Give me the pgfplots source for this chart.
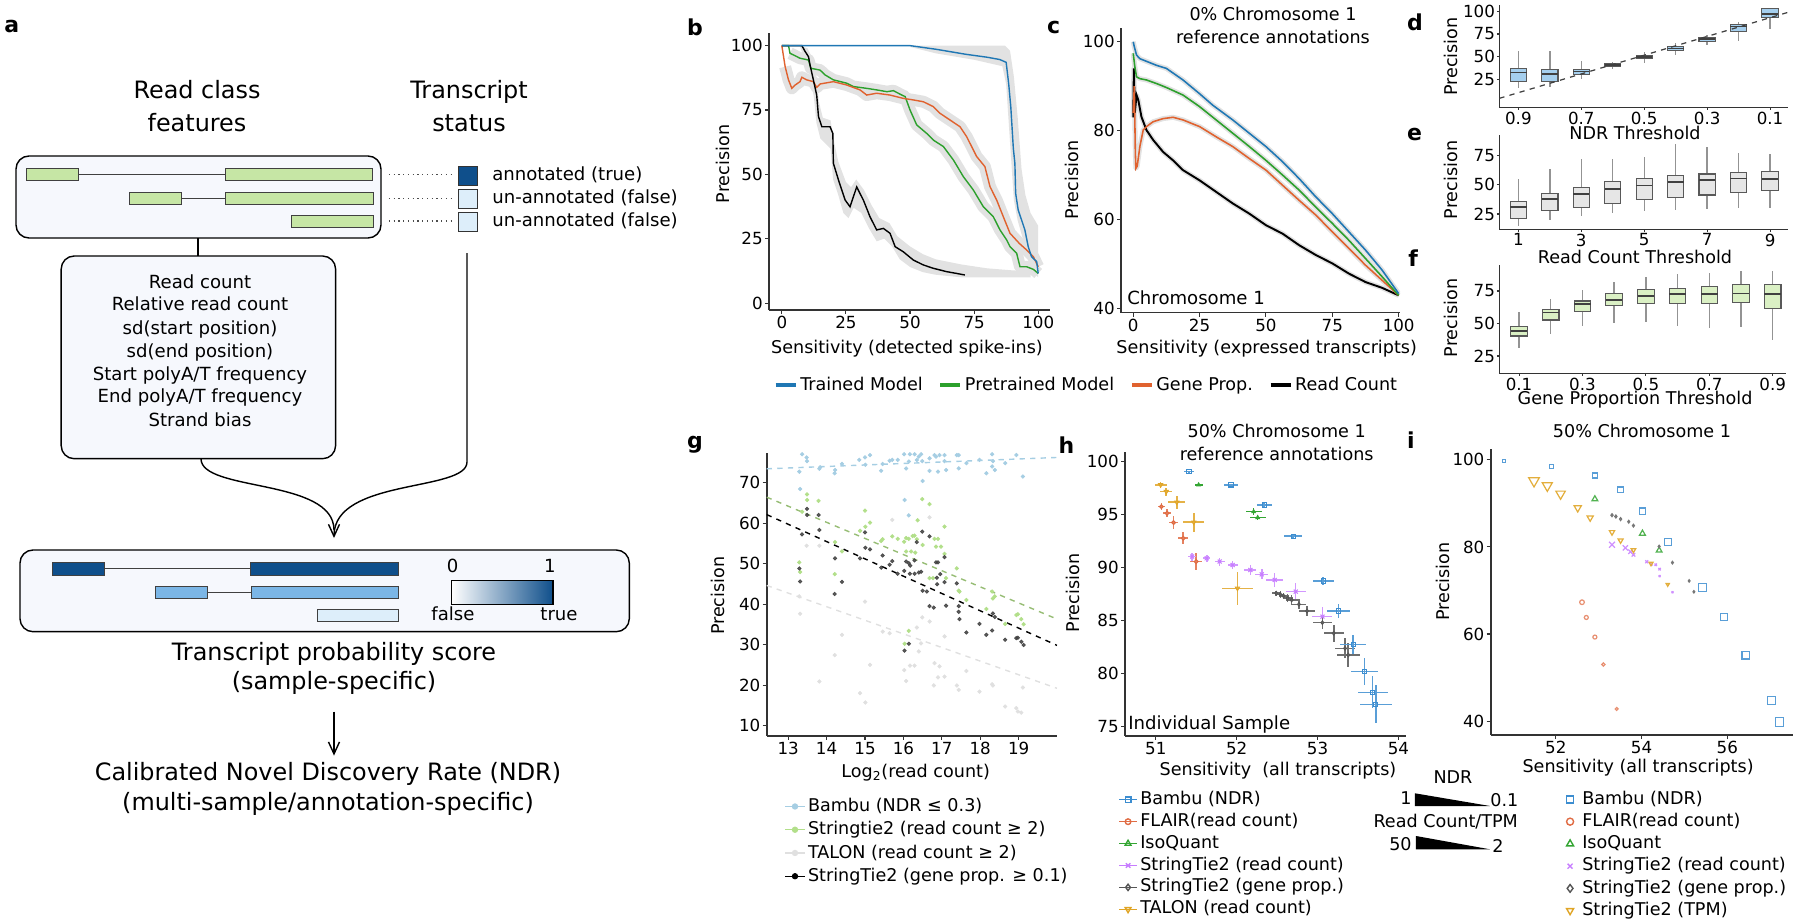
\documentclass[border=0pt]{standalone}
\usepackage{fontspec}
\setmainfont{DejaVu Sans}
\usepackage{pgfplots}
\pgfplotsset{compat=1.18}
\usepgfplotslibrary{statistics}
\usetikzlibrary{arrows.meta}

\definecolor{cBlue}{HTML}{1F77B4}
\definecolor{cGreen}{HTML}{2CA02C}
\definecolor{cOrange}{HTML}{E0622F}
\definecolor{band}{HTML}{E2E2E2}
\definecolor{dBox}{HTML}{A5CFEE}
\definecolor{eBox}{HTML}{E6E6E6}
\definecolor{fBox}{HTML}{DAF0C4}
\definecolor{gBlue}{HTML}{A6CEE3}
\definecolor{gGreen}{HTML}{B2DF8A}
\definecolor{gGray}{HTML}{E0E0E0}
\definecolor{gBlack}{HTML}{404040}
\definecolor{hBlue}{HTML}{3C8DD0}
\definecolor{hRed}{HTML}{E06C44}
\definecolor{hGreen}{HTML}{33A532}
\definecolor{hPurple}{HTML}{C77DFF}
\definecolor{hGray}{HTML}{555555}
\definecolor{hGold}{HTML}{E0A526}
\definecolor{aFill}{HTML}{F6F8FD}
\definecolor{aGreen}{HTML}{C6E6A5}
\definecolor{aDark}{HTML}{0F4F8B}
\definecolor{aMid}{HTML}{7BB6E6}
\definecolor{aLight}{HTML}{DDEEFA}

\newcommand\tfs{\fontsize{9.5}{11}\selectfont}
\newcommand\lfs{\fontsize{10}{12}\selectfont}
\newcommand\pfs{\fontsize{12.5}{14}\selectfont\bfseries}
\newcommand\afs{\fontsize{13.6}{16.3}\selectfont}
\newcommand\asf{\fontsize{10.3}{13}\selectfont}

\pgfdeclareplotmark{itri}{%
  \pgfpathmoveto{\pgfqpoint{0pt}{-\pgfplotmarksize}}%
  \pgfpathlineto{\pgfqpointpolar{30}{\pgfplotmarksize}}%
  \pgfpathlineto{\pgfqpointpolar{150}{\pgfplotmarksize}}%
  \pgfpathclose
  \pgfusepathqstroke
}

\pgfplotsset{
  mpl/.style={
    scale only axis,
    anchor=south west,
    axis x line*=bottom, axis y line*=left,
    axis line style={line width=0.9pt, black!80},
    every tick/.style={black!80, line width=0.6pt},
    tick align=outside, major tick length=0.8mm,
    tick label style={font=\tfs, inner sep=0.4mm},
    label style={font=\lfs},
    /pgf/number format/assume math mode=true,
  },
  bxp/.style={
    mpl,
    xmin=0.395, xmax=9.57,
    xtick={1,3,5,7,9},
    major tick length=0.5mm,
    tick label style={inner sep=0.3mm},
    boxplot/draw direction=y,
    boxplot/box extend=0.52,
    boxplot/whisker extend=0,
    boxplot/every whisker/.style={draw=gray!85, line width=0.8pt},
    boxplot/every median/.style={draw=black!75, line width=0.9pt},
  },
  eb/.style={only marks, line width=0.6pt,
    error bars/x dir=both, error bars/x explicit,
    error bars/y dir=both, error bars/y explicit,
    error bars/error mark=none,
    error bars/error bar style={line width=0.9pt, #1}},
}
\newcommand\bx[6]{\addplot[boxplot prepared={draw position=#1, lower whisker=#2, lower quartile=#3, median=#4, upper quartile=#5, upper whisker=#6}] coordinates {};}

\begin{document}
\begin{tikzpicture}
\useasboundingbox (0,0) rectangle (360mm,-184.4mm);

% ================= panel a (schematic) =================
\begin{scope}[x=0.2mm,y=-0.2mm]
\node[font=\afs, anchor=mid] at (197,94) {Read class};
\node[font=\afs, anchor=mid] at (197,126.4) {features};
\node[font=\afs, anchor=mid] at (469,94) {Transcript};
\node[font=\afs, anchor=mid] at (469,126.4) {status};
\draw[line width=0.8pt, fill=aFill, rounded corners=2.6mm] (16,156) rectangle (381,238);
\begin{scope}[draw=gray!50!black, line width=0.5pt]
\draw[fill=aGreen] (26.8,168.6) rectangle (78.5,180.6);
\draw (78.5,174.6) -- (225,174.6);
\draw[fill=aGreen] (225,168.6) rectangle (372.4,180.6);
\draw[fill=aGreen] (129.4,192.2) rectangle (181.4,204.2);
\draw (181.4,198.2) -- (225.8,198.2);
\draw[fill=aGreen] (225.8,192.2) rectangle (373.1,204.2);
\draw[fill=aGreen] (291.6,215) rectangle (373.1,227);
\end{scope}
\draw[dotted, line width=0.7pt, gray!60!black] (389,174.6) -- (451.6,174.6);
\draw[dotted, line width=0.7pt, gray!60!black] (389,198.2) -- (451.6,198.2);
\draw[dotted, line width=0.7pt, gray!60!black] (389,221) -- (451.6,221);
\draw[fill=aDark, draw=black!80, line width=0.5pt] (458,166) rectangle (477,185);
\draw[fill=aLight, draw=black!80, line width=0.5pt] (458,189) rectangle (477,208);
\draw[fill=aLight, draw=black!80, line width=0.5pt] (458,212) rectangle (477,231);
\node[font=\asf, anchor=west, inner sep=0] at (492,174.6) {annotated (true)};
\node[font=\asf, anchor=west, inner sep=0] at (492,198.2) {un-annotated (false)};
\node[font=\asf, anchor=west, inner sep=0] at (492,221) {un-annotated (false)};
\draw[line width=0.7pt] (198,238) -- (198,256);
\draw[line width=0.8pt, fill=aFill, rounded corners=2.6mm] (61.2,256) rectangle (335.6,458.7);
\node[font=\asf, anchor=mid] at (200,283.4) {Read count};
\node[font=\asf, anchor=mid] at (200,305.8) {Relative read count};
\node[font=\asf, anchor=mid] at (200,329.3) {sd(start position)};
\node[font=\asf, anchor=mid] at (200,352.8) {sd(end position)};
\node[font=\asf, anchor=mid] at (200,375.2) {Start polyA/T frequency};
\node[font=\asf, anchor=mid] at (200,398.1) {End polyA/T frequency};
\node[font=\asf, anchor=mid] at (200,421.6) {Strand bias};
\draw[line width=0.8pt] (201,458.7) .. controls (201,492) and (334,478) .. (334,530);
\draw[line width=0.8pt, -{Straight Barb[length=2.4mm,width=2.2mm]}] (467,253) -- (467,462) .. controls (467,492) and (334,478) .. (334,538);
\draw[line width=0.8pt, fill=aFill, rounded corners=2.6mm] (20,550) rectangle (629.3,631.7);
\begin{scope}[draw=gray!50!black, line width=0.5pt]
\draw[fill=aDark] (52.8,562.6) rectangle (104.5,575);
\draw (104.5,568.8) -- (250.7,568.8);
\draw[fill=aDark] (250.7,562.6) rectangle (398.8,575);
\draw[fill=aMid] (155,586) rectangle (207,598.4);
\draw (207,592.2) -- (251.4,592.2);
\draw[fill=aMid] (251.4,586) rectangle (398.8,598.4);
\draw[fill=aLight] (317.6,609.1) rectangle (398.8,621.5);
\end{scope}
\shade[left color=white, right color=aDark] (451.6,580.4) rectangle (553,604.5);
\draw[line width=0.6pt] (451.6,580.4) rectangle (553,604.5);
\node[font=\asf, anchor=mid] at (452.7,567.5) {0};
\node[font=\asf, anchor=mid] at (550,567.5) {1};
\node[font=\asf, anchor=mid] at (453,615.7) {false};
\node[font=\asf, anchor=mid] at (559,615.7) {true};
\node[font=\afs, anchor=mid] at (334,655.6) {Transcript probability score};
\node[font=\afs, anchor=mid] at (334,685) {(sample-specific)};
\draw[line width=0.8pt, -{Straight Barb[length=2.4mm,width=2.2mm]}] (334,711.5) -- (334,755.6);
\node[font=\afs, anchor=mid] at (328,776) {Calibrated Novel Discovery Rate (NDR)};
\node[font=\afs, anchor=mid] at (328,805.6) {(multi-sample/annotation-specific)};

% panel letters
\node[font=\pfs, anchor=base west, inner sep=0] at (4,32) {a};
\node[font=\pfs, anchor=base west, inner sep=0] at (686.7,35) {b};
\node[font=\pfs, anchor=base west, inner sep=0] at (1046.7,33.3) {c};
\node[font=\pfs, anchor=base west, inner sep=0] at (1406.7,30) {d};
\node[font=\pfs, anchor=base west, inner sep=0] at (1406.7,140) {e};
\node[font=\pfs, anchor=base west, inner sep=0] at (1408,266.7) {f};
\node[font=\pfs, anchor=base west, inner sep=0] at (686.7,448) {g};
\node[font=\pfs, anchor=base west, inner sep=0] at (1058.3,453.3) {h};
\node[font=\pfs, anchor=base west, inner sep=0] at (1406.7,448.3) {i};

% titles and inner notes
\node[font=\lfs, anchor=mid] at (1273,16) {0\% Chromosome 1};
\node[font=\lfs, anchor=mid] at (1273,39) {reference annotations};
\node[font=\asf, anchor=west, inner sep=0] at (1127,298) {Chromosome 1};
\node[font=\lfs, anchor=mid] at (1276.7,433) {50\% Chromosome 1};
\node[font=\lfs, anchor=mid] at (1276.7,456) {reference annotations};
\node[font=\asf, anchor=west, inner sep=0] at (1128,725) {Individual Sample};
\node[font=\lfs, anchor=mid] at (1642,433) {50\% Chromosome 1};

% NDR / read count wedges
\node[font=\lfs, anchor=mid] at (1453,779) {NDR};
\fill (1415,793.3) -- (1415,806) -- (1490,806) -- cycle;
\node[font=\lfs, anchor=mid east, inner sep=0] at (1412,800) {1};
\node[font=\lfs, anchor=mid west, inner sep=0] at (1490,801.7) {0.1};
\node[font=\lfs, anchor=mid] at (1445.7,822.3) {Read Count/TPM};
\fill (1416,836) -- (1416,849.3) -- (1490,849.3) -- cycle;
\node[font=\lfs, anchor=mid east, inner sep=0] at (1412,846) {50};
\node[font=\lfs, anchor=mid west, inner sep=0] at (1492,848) {2};
\end{scope}

% ================= panel b =================
\begin{axis}[mpl, at={(153.8mm,-62mm)}, width=56.2mm, height=55.4mm,
  xmin=-5, xmax=104.6, ymin=-2.7, ymax=104.9,
  xtick={0,25,...,100}, ytick={0,25,...,100},
  xlabel={Sensitivity (detected spike-ins)}, ylabel={Precision},
  xlabel style={at={(axis description cs:0.491,-0.138)},anchor=center},
  ylabel style={at={(axis description cs:-0.164,0.527)},anchor=center},
  legend columns=4,
  legend style={at={(axis description cs:0.015,-0.271)}, anchor=west, draw=none, fill=none, font=\lfs, inner sep=0pt, nodes={inner sep=0.5mm}, /tikz/every even column/.append style={column sep=2.6mm}},
  legend image code/.code={\draw[#1] (0mm,0mm) -- (4mm,0mm);},
]
\addplot[fill=band, draw=none, forget plot] coordinates {(50,100) (87,100) (89,98) (90.5,88) (92,72) (93.5,52) (95,42) (97,35) (100,30) (100,10) (98,12) (96,17) (94,25) (92,32) (90.5,40) (89.5,55) (88.5,70) (87.5,85) (86,92) (75,94.5) (60,97) (50,99.5)};
\addplot[fill=band, draw=none, forget plot] coordinates {(7,100) (10,99) (12,95) (13.5,88) (14.5,78) (16,72) (19,71) (20.5,62) (22,55) (25,47) (27,45) (29,48) (32,44) (35,38) (38,33) (42,31) (45,26) (50,22) (55,19) (60,17) (70,15) (80,13.5) (90,12.7) (97,12.3) (97,10) (80,10) (70,10) (60,11) (55,12) (50,14) (46,17) (43,22) (40,25) (37,24) (34,29) (31,35) (28,37) (26,33) (24,35) (22,42) (20,48) (19,60) (15,64) (13.5,70) (12.5,80) (11,88) (9.5,94) (8,97)};
\addplot[band, line width=2.4mm, line join=round, forget plot] coordinates {(3.2,97) (4.5,96.4) (7.1,95.1) (10.4,94.4) (11.3,91.2) (14.9,90.5) (16.9,88.6) (20.1,86.7) (25.3,85.4) (27.9,84.1) (33.1,83.4) (37,82.8) (41,82.1) (43.5,82.5) (46.8,80.8) (48.1,80.2) (50,75) (52.6,69.2) (56.5,65.9) (59.1,63.3) (63,60.8) (66.9,55.6) (70.8,49.1) (74.7,43.9) (78.6,37.4) (82.5,33.5) (85.1,28.4) (87.7,24.5) (89,21.9) (91.6,19.3) (92.9,14.1) (95.5,14.1) (98.1,13.1) (100,11.5)};
\addplot[band, line width=2.4mm, line join=round, forget plot] coordinates {(1.3,91.8) (2.6,86.7) (3.9,83.4) (5.2,84.7) (7.1,86) (7.8,87.7) (9.7,86.7) (12.3,86) (13.6,83.8) (14.9,85.1) (20.1,86) (25.3,84.7) (30.5,82.8) (33.1,80.8) (37,81.5) (42.2,80.8) (47.4,79.5) (51.3,78.9) (55.2,78.2) (59.1,76.3) (61.7,73.7) (65.6,71.1) (69.5,68.5) (72.1,64.6) (76,56.9) (79.2,53) (81.2,45.2) (83.8,40) (86.4,33.5) (89,27.1) (92.6,23.2) (95.5,20.6) (98.1,18) (100,14.1)};
\addplot[cGreen, line width=0.8pt, forget plot] coordinates {(0,100) (2.6,100) (3.2,97) (4.5,96.4) (7.1,95.1) (10.4,94.4) (11.3,91.2) (14.9,90.5) (16.9,88.6) (20.1,86.7) (25.3,85.4) (27.9,84.1) (33.1,83.4) (37,82.8) (41,82.1) (43.5,82.5) (46.8,80.8) (48.1,80.2) (50,75) (52.6,69.2) (56.5,65.9) (59.1,63.3) (63,60.8) (66.9,55.6) (70.8,49.1) (74.7,43.9) (78.6,37.4) (82.5,33.5) (85.1,28.4) (87.7,24.5) (89,21.9) (91.6,19.3) (92.9,14.1) (95.5,14.1) (98.1,13.1) (100,11.5)};
\addplot[cOrange, line width=0.8pt, forget plot] coordinates {(0,100) (1.3,91.8) (2.6,86.7) (3.9,83.4) (5.2,84.7) (7.1,86) (7.8,87.7) (9.7,86.7) (12.3,86) (13.6,83.8) (14.9,85.1) (20.1,86) (25.3,84.7) (30.5,82.8) (33.1,80.8) (37,81.5) (42.2,80.8) (47.4,79.5) (51.3,78.9) (55.2,78.2) (59.1,76.3) (61.7,73.7) (65.6,71.1) (69.5,68.5) (72.1,64.6) (76,56.9) (79.2,53) (81.2,45.2) (83.8,40) (86.4,33.5) (89,27.1) (92.6,23.2) (95.5,20.6) (98.1,18) (100,14.1)};
\addplot[black, line width=0.8pt, forget plot] coordinates {(0,100) (7.8,100) (9.1,97.7) (10.4,95.7) (11,92.5) (12.3,86.7) (13.6,80.8) (14.3,72.4) (15.6,68.5) (18.8,68.5) (19.9,65.9) (20.1,54.3) (22.1,47.8) (24.7,40) (26.6,37.4) (29.2,45.1) (31.8,40) (34.4,33.5) (37,28.4) (39.6,29) (42.2,27.1) (44.2,21.9) (47.4,19.9) (51.3,16.7) (55.2,14.8) (59.1,13.5) (64.3,12.2) (68.2,11.5) (71.4,10.9)};
\addplot[cBlue, line width=0.8pt, forget plot] coordinates {(0,100) (50,100) (60,98.6) (72,96.6) (80,95.5) (85,94.6) (87.5,93.5) (88.5,85) (89.3,76.3) (90.3,60) (90.9,54.3) (91.2,42.6) (92.2,36.1) (93.5,32.3) (94.8,28.4) (96.1,21.9) (97.4,18) (99.4,16.1) (100,11.5)};
\addlegendimage{cBlue, line width=2.4pt}\addlegendentry{Trained Model}
\addlegendimage{cGreen, line width=2.4pt}\addlegendentry{Pretrained Model}
\addlegendimage{cOrange, line width=2.4pt}\addlegendentry{Gene Prop.}
\addlegendimage{black, line width=2.4pt}\addlegendentry{Read Count}
\end{axis}

% ================= panel c =================
\begin{axis}[mpl, at={(224.2mm,-62.54mm)}, width=55.8mm, height=56.94mm,
  xmin=-4.6, xmax=100.5, ymin=39, ymax=103.1,
  xtick={0,25,...,100}, ytick={40,60,80,100},
  xlabel={Sensitivity (expressed transcripts)}, ylabel={Precision},
  xlabel style={at={(axis description cs:0.522,-0.127)},anchor=center},
  ylabel style={at={(axis description cs:-0.177,0.466)},anchor=center},
]
\addplot[band, line width=1mm, line join=round] coordinates {(0,100) (0.4,98.9) (1.25,97) (2.5,96.2) (5,95.6) (8.75,94.7) (12.5,94) (18.75,91.4) (25,88.3) (30,85.7) (37.5,82.4) (43.75,79.4) (50,76.4) (56.25,73) (62.5,69.2) (68.75,65.1) (75,61.3) (81.25,57.2) (87.5,53.1) (93.75,48.6) (100,43.3)};
\addplot[band, line width=1mm, line join=round] coordinates {(0,97.4) (0.6,94.4) (1.25,92.1) (2.5,91.7) (5,91.4) (8.75,90.6) (12.5,89.7) (18.75,88) (25,85.4) (31.25,82.4) (37.5,79.4) (43.75,76.4) (50,73.3) (56.25,70) (62.5,66.6) (68.75,62.8) (75,59.1) (81.25,55.3) (87.5,51.2) (93.75,47.1) (100,42.9)};
\addplot[band, line width=1mm, line join=round] coordinates {(0,84) (0.4,90) (0.8,75) (1,71.5) (1.5,72) (2.5,76.4) (3.75,80.1) (5,80.9) (7.5,82) (11.25,82.7) (15,83) (18.75,82.4) (25,80.9) (31.25,78.6) (37.5,76.4) (43.75,73.7) (50,71.1) (56.25,67.7) (62.5,64.3) (68.75,61) (75,57.2) (81.25,53.5) (87.5,49.7) (93.75,46.3) (100,42.9)};
\addplot[band, line width=1mm, line join=round] coordinates {(0,83) (0.25,94) (0.6,84) (1.25,88) (1.9,86.9) (3.1,83.1) (5,80.1) (7.5,77.9) (11.25,75.2) (15,73.3) (18.75,71.1) (25,68.8) (31.25,66.2) (37.5,63.6) (43.75,61.3) (50,58.7) (56.25,56.8) (62.5,54.2) (68.75,52) (75,50.1) (81.25,47.8) (87.5,45.9) (93.75,44.6) (100,42.9)};
\addplot[black, line width=1.1pt] coordinates {(0,83) (0.25,94) (0.6,84) (1.25,88) (1.9,86.9) (3.1,83.1) (5,80.1) (7.5,77.9) (11.25,75.2) (15,73.3) (18.75,71.1) (25,68.8) (31.25,66.2) (37.5,63.6) (43.75,61.3) (50,58.7) (56.25,56.8) (62.5,54.2) (68.75,52) (75,50.1) (81.25,47.8) (87.5,45.9) (93.75,44.6) (100,42.9)};
\addplot[cOrange, line width=0.9pt] coordinates {(0,84) (0.4,90) (0.8,75) (1,71.5) (1.5,72) (2.5,76.4) (3.75,80.1) (5,80.9) (7.5,82) (11.25,82.7) (15,83) (18.75,82.4) (25,80.9) (31.25,78.6) (37.5,76.4) (43.75,73.7) (50,71.1) (56.25,67.7) (62.5,64.3) (68.75,61) (75,57.2) (81.25,53.5) (87.5,49.7) (93.75,46.3) (100,42.9)};
\addplot[cGreen, line width=0.9pt] coordinates {(0,97.4) (0.6,94.4) (1.25,92.1) (2.5,91.7) (5,91.4) (8.75,90.6) (12.5,89.7) (18.75,88) (25,85.4) (31.25,82.4) (37.5,79.4) (43.75,76.4) (50,73.3) (56.25,70) (62.5,66.6) (68.75,62.8) (75,59.1) (81.25,55.3) (87.5,51.2) (93.75,47.1) (100,42.9)};
\addplot[cBlue, line width=0.9pt] coordinates {(0,100) (0.4,98.9) (1.25,97) (2.5,96.2) (5,95.6) (8.75,94.7) (12.5,94) (18.75,91.4) (25,88.3) (30,85.7) (37.5,82.4) (43.75,79.4) (50,76.4) (56.25,73) (62.5,69.2) (68.75,65.1) (75,61.3) (81.25,57.2) (87.5,53.1) (93.75,48.6) (100,43.3)};
\end{axis}

% ================= panel d =================
\begin{axis}[bxp, at={(299.86mm,-21.46mm)}, width=57.74mm, height=20.46mm,
  ymin=-6, ymax=107, ytick={25,50,75,100},
  xticklabels={0.9,0.7,0.5,0.3,0.1},
  xlabel={NDR Threshold}, ylabel={Precision},
  xlabel style={at={(axis description cs:0.470,-0.251)},anchor=center},
  ylabel style={at={(axis description cs:-0.168,0.495)},anchor=center},
  boxplot/every box/.style={draw=gray!70!black, fill=dBox, line width=0.6pt},
]
\bx{1}{15}{22.3}{32.3}{36.4}{56.7}
\bx{2}{16}{22}{31}{36}{56}
\bx{3}{25.3}{30}{33.5}{36}{45.3}
\bx{4}{36.4}{39}{40.5}{42}{44}
\bx{5}{43.4}{47.5}{49.7}{51.2}{55.6}
\bx{6}{52}{56.7}{59}{60.8}{65}
\bx{7}{62.3}{67}{69.7}{71.6}{74}
\bx{8}{66.7}{77.8}{83.4}{85.6}{88.2}
\bx{9}{80.5}{92.7}{97}{103}{103.5}
\addplot[dashed, black!75, line width=0.7pt, fill=none] coordinates {(0.395,3.9) (9.57,98.9)};
\end{axis}

% ================= panel e =================
\begin{axis}[bxp, at={(299.86mm,-45.86mm)}, width=57.74mm, height=18.86mm,
  ymin=11.9, ymax=92.7, ytick={25,50,75},
  xticklabels={1,3,5,7,9},
  xlabel={Read Count Threshold}, ylabel={Precision},
  xlabel style={at={(axis description cs:0.470,-0.291)},anchor=center},
  ylabel style={at={(axis description cs:-0.168,0.523)},anchor=center},
  boxplot/every box/.style={draw=gray!70!black, fill=eBox, line width=0.6pt},
]
\bx{1}{15}{21.4}{30.8}{35.6}{55}
\bx{2}{20}{27.7}{37.9}{42.8}{63.4}
\bx{3}{23.4}{30.8}{42}{48}{72.2}
\bx{4}{25.7}{34.3}{46.5}{52.7}{72.2}
\bx{5}{27.7}{37.2}{49.3}{55.6}{74}
\bx{6}{28.5}{39}{52.2}{57.9}{85}
\bx{7}{29.1}{41.3}{54.2}{59.3}{82.7}
\bx{8}{30}{43.3}{55.6}{60.8}{77}
\bx{9}{30.5}{44.8}{54.8}{61.3}{76.2}
\end{axis}

% ================= panel f =================
\begin{axis}[bxp, at={(299.86mm,-74.66mm)}, width=57.28mm, height=21.66mm,
  xmin=0.378, xmax=9.41,
  ymin=11.7, ymax=95, ytick={25,50,75},
  xticklabels={0.1,0.3,0.5,0.7,0.9},
  xlabel={Gene Proportion Threshold}, ylabel={Precision},
  xlabel style={at={(axis description cs:0.474,-0.247)},anchor=center},
  ylabel style={at={(axis description cs:-0.170,0.511)},anchor=center},
  boxplot/every box/.style={draw=gray!70!black, fill=fBox, line width=0.6pt},
]
\bx{1}{31.4}{40.4}{44.2}{47.6}{58.6}
\bx{2}{41.7}{52.7}{58.6}{60.9}{68.6}
\bx{3}{48.1}{59.1}{64.8}{67.3}{75.8}
\bx{4}{50.6}{63.5}{68.1}{73.2}{81.7}
\bx{5}{50.9}{65.5}{71.2}{76.3}{86}
\bx{6}{48.1}{65.5}{72.7}{77.1}{87.8}
\bx{7}{46.3}{65.5}{72.7}{78.8}{89.1}
\bx{8}{47.6}{66}{73.2}{80.1}{90.6}
\bx{9}{37.3}{61.2}{72.7}{80.1}{90.6}
\end{axis}

% ================= panel g =================
\begin{axis}[mpl, at={(153.34mm,-147.14mm)}, width=58.06mm, height=56.54mm,
  xmin=12.44, xmax=20, ymin=7.5, ymax=77.3,
  xtick={13,14,...,19}, ytick={10,20,...,70},
  xlabel={Log\textsubscript{2}(read count)}, ylabel={Precision},
  xlabel style={at={(axis description cs:0.513,-0.131)},anchor=center},
  ylabel style={at={(axis description cs:-0.167,0.495)},anchor=center},
  legend style={at={(axis description cs:0.06,-0.208)}, anchor=north west, draw=none, fill=none, font=\lfs, inner sep=0pt, nodes={inner sep=0.5mm, text height=2.85mm, text depth=0.8mm}},
  legend cell align=left,
  legend image code/.code={\draw[mark repeat=2,mark phase=2,#1] plot coordinates {(0mm,0mm) (2mm,0mm) (4mm,0mm)};},
]
\addplot[only marks, mark=*, mark size=1pt, gGray, forget plot] coordinates {(13.29,41.9) (13.31,37.6) (13.48,54.4) (13.81,54.4) (14.21,27.4) (14.40,32.4) (15.00,40.6) (15.13,25.0) (15.46,33.2) (15.64,32.8) (15.71,60.8) (16.02,23.7) (16.07,21.0) (16.17,24.8) (16.29,24.8) (16.35,34.2) (16.40,28.3) (16.46,30.3) (16.49,36.7) (16.68,61.4) (16.68,35.7) (16.81,25.4) (16.90,21.9) (16.94,24.6) (17.07,22.1) (17.07,32.0) (16.79,19.9) (17.39,19.9) (17.44,18.8) (17.64,23.5) (17.98,18.4) (18.31,20.2) (18.33,19.9) (18.65,14.7) (18.94,14.3) (18.98,13.5) (19.07,13.2) (19.11,19.4) (14.87,18.0) (15.01,15.7) (13.81,20.9)};
\addplot[only marks, mark=*, mark size=1pt, gBlue, forget plot] coordinates {(13.36,77.0) (13.48,76.2) (13.49,75.3) (13.29,72.7) (13.81,73.4) (13.83,73.8) (14.22,73.1) (14.21,72.3) (14.40,74.6) (14.85,75.6) (15.00,76.2) (15.13,76.8) (15.01,74.4) (15.42,72.9) (15.46,74.6) (15.64,75.4) (15.71,75.6) (15.85,75.6) (16.02,77.0) (16.07,73.5) (16.14,75.2) (16.17,77.0) (16.29,77.0) (16.35,75.6) (16.40,76.4) (16.46,77.0) (16.49,75.3) (16.50,70.4) (16.68,76.0) (16.68,72.9) (16.81,76.8) (16.85,76.4) (16.90,72.7) (16.94,76.8) (17.07,76.8) (17.07,75.3) (17.11,73.1) (17.39,76.8) (17.44,76.8) (17.44,73.5) (17.64,74.8) (17.98,75.6) (18.16,72.3) (18.31,77.0) (18.33,75.3) (18.31,74.0) (18.38,73.1) (18.65,74.8) (18.94,76.8) (19.11,71.5) (13.31,68.4) (16.03,65.7) (16.14,61.9)};
\addplot[only marks, mark=*, mark size=1pt, gGreen, forget plot] coordinates {(13.49,67.1) (13.49,65.7) (13.79,65.5) (13.36,62.8) (13.29,50.3) (13.31,47.9) (14.22,55.3) (14.21,47.4) (14.40,53.0) (15.00,63.1) (15.01,59.1) (15.13,60.1) (14.87,58.1) (15.46,56.0) (15.42,55.6) (15.71,56.7) (15.85,56.1) (16.02,55.4) (16.07,56.3) (16.14,56.1) (16.24,56.8) (16.29,56.9) (16.35,56.0) (16.20,53.0) (16.07,53.0) (16.31,52.7) (16.49,65.9) (16.68,64.7) (16.37,60.7) (16.50,54.6) (16.81,56.1) (16.90,56.1) (16.85,54.2) (16.98,54.2) (17.07,59.1) (17.07,52.4) (16.68,46.4) (16.77,46.4) (17.11,46.4) (17.39,48.8) (17.44,43.3) (17.46,43.1) (17.64,41.0) (18.31,43.1) (18.33,41.4) (18.38,41.9) (18.16,38.8) (18.65,35.1) (18.94,37.3) (18.98,37.5) (19.07,36.3) (19.13,35.0) (16.03,30.2) (16.14,33.4)};
\addplot[only marks, mark=*, mark size=1pt, gBlack, opacity=0.85, forget plot] coordinates {(13.49,63.5) (13.49,62.0) (13.79,62.0) (13.36,57.2) (13.81,58.3) (13.29,48.8) (13.31,45.6) (14.22,51.3) (14.21,42.5) (14.40,45.5) (15.00,57.7) (15.01,53.9) (15.13,53.5) (14.87,51.3) (15.46,52.0) (15.42,49.0) (15.64,49.7) (15.71,50.6) (15.85,47.5) (16.02,48.2) (16.07,50.5) (16.14,50.1) (16.18,49.5) (16.17,47.5) (16.29,50.8) (16.29,47.5) (16.35,55.3) (16.40,47.8) (16.49,57.9) (16.46,48.0) (16.68,56.7) (16.50,43.3) (16.61,43.1) (16.85,50.3) (16.90,50.3) (17.07,51.6) (16.87,46.5) (16.88,44.9) (16.96,47.4) (16.68,39.5) (16.79,39.1) (17.11,39.6) (17.07,45.4) (17.39,45.1) (17.44,39.5) (17.44,38.1) (17.46,36.3) (17.64,33.0) (17.98,35.1) (18.16,32.4) (18.31,33.5) (18.33,37.7) (18.38,36.8) (18.65,31.2) (18.94,31.6) (18.98,31.7) (19.07,30.7) (19.13,29.9) (16.03,28.5) (16.14,30.2)};
\addplot[gBlue, dashed, line width=0.8pt, forget plot] coordinates {(12.44,73.4) (20,76.2)};
\addplot[gGray, dashed, line width=0.8pt, forget plot] coordinates {(12.44,44.6) (20,19.2)};
\addplot[gGreen!85!black, dashed, line width=0.8pt, forget plot] coordinates {(12.44,66.4) (20,36.3)};
\addplot[black, dashed, line width=0.8pt, forget plot] coordinates {(12.44,62.1) (20,29.8)};
\addlegendimage{gBlue, line width=0.6pt, mark=*, mark size=1.5pt}\addlegendentry{Bambu (NDR ≤ 0.3)}
\addlegendimage{gGreen, line width=0.6pt, mark=*, mark size=1.5pt}\addlegendentry{Stringtie2 (read count ≥ 2)}
\addlegendimage{gGray, line width=0.6pt, mark=*, mark size=1.5pt}\addlegendentry{TALON (read count ≥ 2)}
\addlegendimage{black, line width=0.6pt, mark=*, mark size=1.5pt}\addlegendentry{StringTie2 (gene prop. ≥ 0.1)}
\end{axis}

% ================= panel h =================
\begin{axis}[mpl, at={(225mm,-147.14mm)}, width=56.14mm, height=56.74mm,
  xmin=50.62, xmax=54.09, ymin=74.15, ymax=100.9,
  xtick={51,52,53,54}, ytick={75,80,...,100},
  xlabel={Sensitivity\ \ (all transcripts)}, ylabel={Precision},
  xlabel style={at={(axis description cs:0.545,-0.123)},anchor=center},
  ylabel style={at={(axis description cs:-0.184,0.503)},anchor=center},
  legend style={at={(axis description cs:-0.025,-0.186)}, anchor=north west, draw=none, fill=none, font=\lfs, inner sep=0pt, nodes={inner sep=0.5mm, text height=2.6mm, text depth=0.78mm}},
  legend cell align=left,
  legend image code/.code={\draw[mark repeat=2,mark phase=2,#1] plot coordinates {(0mm,0mm) (1.8mm,0mm) (3.6mm,0mm)};},
]
\addplot[hGold, mark=itri, mark size=1.3pt, forget plot, eb=hGold!85] table[x=x,y=y,x error=ex,y error=ey]{
x y ex ey
51.06 97.80 0.074 0.31
51.13 97.17 0.074 0.38
51.26 96.16 0.103 0.63
51.47 94.28 0.132 0.88
52.01 88.05 0.186 1.57
};
\addplot[hRed, mark=o, mark size=1.1pt, forget plot, eb=hRed!85] table[x=x,y=y,x error=ex,y error=ey]{
x y ex ey
51.07 95.75 0.04 0.31
51.14 95.13 0.05 0.38
51.22 94.25 0.054 0.57
51.34 92.77 0.062 0.57
51.50 90.57 0.074 0.79
};
\addplot[hGreen, mark=triangle, mark size=1.1pt, forget plot, eb=hGreen] table[x=x,y=y,x error=ex,y error=ey]{
x y ex ey
51.53 97.80 0.05 0.1
52.21 95.28 0.10 0.31
52.26 94.72 0.10 0.25
};
\addplot[hPurple, mark=x, mark size=1.6pt, forget plot, eb=hPurple!80] table[x=x,y=y,x error=ex,y error=ey]{
x y ex ey
51.45 91.04 0.05 0.38
51.63 90.88 0.041 0.31
51.79 90.57 0.062 0.38
51.95 90.25 0.062 0.38
52.17 89.78 0.074 0.47
52.31 89.37 0.083 0.47
52.47 88.84 0.103 0.63
52.73 87.74 0.124 0.79
53.06 85.38 0.124 0.94
};
\addplot[hGray, mark=diamond, mark size=1pt, forget plot, eb=hGray!85] table[x=x,y=y,x error=ex,y error=ey]{
x y ex ey
52.49 87.58 0.05 0.25
52.54 87.48 0.05 0.31
52.58 87.33 0.062 0.31
52.63 87.11 0.062 0.38
52.68 86.95 0.074 0.47
52.77 86.54 0.083 0.47
52.87 85.91 0.103 0.47
53.06 84.81 0.116 0.63
53.20 83.81 0.124 0.79
53.34 82.39 0.124 0.94
53.38 81.76 0.144 1.1
};
\addplot[hBlue, mark=square, mark size=1.2pt, forget plot, eb=hBlue!85] table[x=x,y=y,x error=ex,y error=ey]{
x y ex ey
51.41 99.06 0.058 0.094
51.93 97.80 0.091 0.094
52.34 95.91 0.091 0.16
52.70 92.96 0.111 0.25
53.07 88.74 0.132 0.38
53.26 85.91 0.144 0.69
53.44 82.77 0.165 0.88
53.58 80.19 0.165 1.26
53.68 78.24 0.186 1.51
53.72 77.11 0.198 1.79
};
\addlegendimage{hBlue, line width=0.8pt, mark=square, mark size=1.6pt, mark options={fill=white}}\addlegendentry{Bambu (NDR)}
\addlegendimage{hRed, line width=0.8pt, mark=o, mark size=1.6pt, mark options={fill=white}}\addlegendentry{FLAIR(read count)}
\addlegendimage{hGreen, line width=0.8pt, mark=triangle, mark size=1.9pt, mark options={fill=white}}\addlegendentry{IsoQuant}
\addlegendimage{hPurple, line width=0.8pt, mark=x, mark size=1.8pt}\addlegendentry{StringTie2 (read count)}
\addlegendimage{hGray, line width=0.8pt, mark=diamond, mark size=1.8pt, mark options={fill=white}}\addlegendentry{StringTie2 (gene prop.)}
\addlegendimage{hGold, line width=0.8pt, mark=itri, mark size=1.9pt}\addlegendentry{TALON (read count)}
\end{axis}

% ================= panel i =================
\begin{axis}[mpl, at={(298.14mm,-147mm)}, width=60.52mm, height=57.2mm,
  xmin=50.48, xmax=57.54, ymin=36.8, ymax=102.5,
  xtick={52,54,56}, ytick={40,60,80,100},
  xlabel={Sensitivity (all transcripts)}, ylabel={Precision},
  xlabel style={at={(axis description cs:0.487,-0.113)},anchor=center},
  ylabel style={at={(axis description cs:-0.157,0.536)},anchor=center},
  legend style={at={(axis description cs:0.239,-0.185)}, anchor=north west, draw=none, fill=none, font=\lfs, inner sep=0pt, nodes={inner sep=0.5mm, text height=2.65mm, text depth=0.8mm}},
  legend cell align=left,
  legend image code/.code={\path (0mm,0mm) (3mm,0mm); \draw[#1] plot coordinates {(1.2mm,0mm)};},
  sz/.style={scatter, only marks, line width=0.7pt,
    scatter/use mapped color={draw=#1, fill=none},
    visualization depends on={\thisrow{s} \as \ms},
    scatter/@pre marker code/.append style={/tikz/mark size=\ms}},
]
\addplot[sz=hBlue!85, mark=square, forget plot] table[x=x,y=y]{
x y s
50.79 99.7 0.95
51.90 98.5 1.23
52.91 96.4 1.42
53.51 93.1 1.61
54.02 88.2 1.8
54.62 81.1 1.9
55.42 70.7 2.09
55.92 63.9 2.09
56.43 55.1 2.09
57.03 44.8 2.28
57.22 39.8 2.37
};
\addplot[sz=hRed!75, mark=o, forget plot] table[x=x,y=y]{
x y s
52.61 67.3 1.33
52.71 63.8 1.14
52.91 59.3 1.14
53.11 53.0 0.95
53.42 42.8 0.85
};
\addplot[sz=hGreen!85, mark=triangle, forget plot] table[x=x,y=y]{
x y s
52.91 91.0 1.9
54.02 83.1 1.9
54.41 79.2 1.9
};
\addplot[sz=hPurple!85, mark=x, forget plot] table[x=x,y=y]{
x y s
53.31 80.5 2.37
53.62 79.8 2.09
53.74 78.9 1.71
53.81 78.2 1.42
54.12 76.6 1.14
54.23 76.0 0.95
54.33 75.9 0.95
54.42 74.9 0.95
54.42 73.3 0.76
54.72 69.6 0.76
};
\addplot[sz=hGray!80, mark=diamond, forget plot] table[x=x,y=y]{
x y s
53.31 87.3 0.8
53.40 87.0 0.8
53.51 86.4 0.8
53.70 85.8 0.75
53.81 84.9 0.75
54.41 80.1 0.7
54.72 76.4 0.7
55.11 72.2 0.65
55.22 69.7 0.65
};
\addplot[sz=hGold!90, mark=itri, forget plot] table[x=x,y=y]{
x y s
51.49 95.2 3.5
51.80 94.1 3.3
52.11 92.2 3.1
52.51 89.0 2.4
52.80 86.7 2.0
53.31 83.4 1.75
53.51 81.5 1.65
53.81 79.3 1.5
54.22 76.2 1.3
54.61 71.4 1.1
};
\addlegendimage{hBlue, line width=0.8pt, mark=square, mark size=2pt}\addlegendentry{Bambu (NDR)}
\addlegendimage{hRed, line width=0.8pt, mark=o, mark size=2pt}\addlegendentry{FLAIR(read count)}
\addlegendimage{hGreen, line width=0.8pt, mark=triangle, mark size=2.3pt}\addlegendentry{IsoQuant}
\addlegendimage{hPurple, line width=0.8pt, mark=x, mark size=2pt}\addlegendentry{StringTie2 (read count)}
\addlegendimage{hGray, line width=0.8pt, mark=diamond, mark size=2.2pt}\addlegendentry{StringTie2 (gene prop.)}
\addlegendimage{hGold, line width=0.8pt, mark=itri, mark size=2.3pt}\addlegendentry{StringTie2 (TPM)}
\end{axis}

\end{tikzpicture}
\end{document}
